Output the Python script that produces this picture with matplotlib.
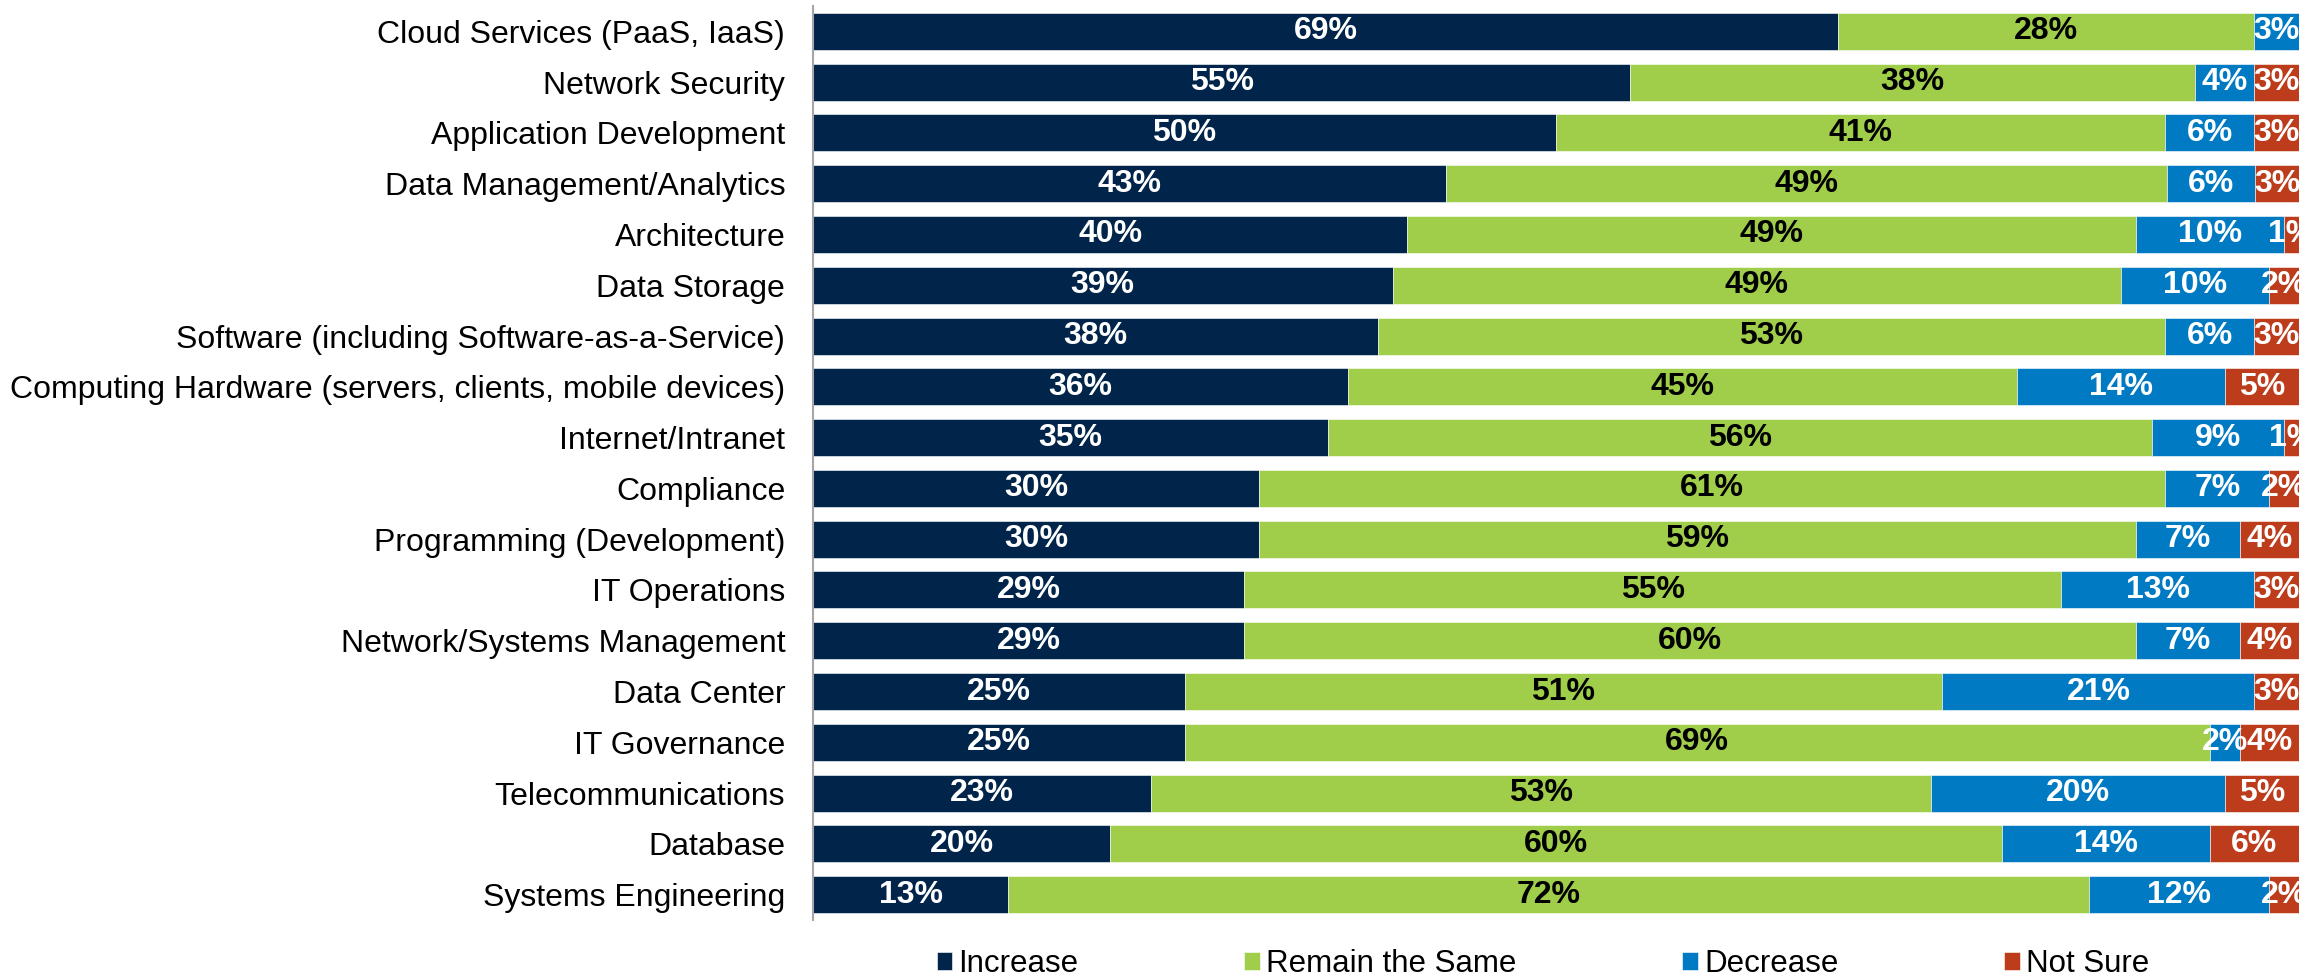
import matplotlib.pyplot as plt
import numpy as np

plt.rcParams['font.family'] = ['Liberation Sans', 'DejaVu Sans']

categories = [
    "Cloud Services (PaaS, IaaS)",
    "Network Security",
    "Application Development",
    "Data Management/Analytics",
    "Architecture",
    "Data Storage",
    "Software (including Software-as-a-Service)",
    "Computing Hardware (servers, clients, mobile devices)",
    "Internet/Intranet",
    "Compliance",
    "Programming (Development)",
    "IT Operations",
    "Network/Systems Management",
    "Data Center",
    "IT Governance",
    "Telecommunications",
    "Database",
    "Systems Engineering",
]
increase = [69, 55, 50, 43, 40, 39, 38, 36, 35, 30, 30, 29, 29, 25, 25, 23, 20, 13]
remain = [28, 38, 41, 49, 49, 49, 53, 45, 56, 61, 59, 55, 60, 51, 69, 53, 60, 72]
decrease = [3, 4, 6, 6, 10, 10, 6, 14, 9, 7, 7, 13, 7, 21, 2, 20, 14, 12]
not_sure = [0, 3, 3, 3, 1, 2, 3, 5, 1, 2, 4, 3, 4, 3, 4, 5, 6, 2]

series = [
    ("Increase", increase, "#00244a", "white"),
    ("Remain the Same", remain, "#a0cd4a", "black"),
    ("Decrease", decrease, "#007ac2", "white"),
    ("Not Sure", not_sure, "#bc3c1b", "white"),
]

fig = plt.figure(figsize=(23.02, 9.76), dpi=100)
ax = fig.add_axes([813 / 2302, 56 / 976, 1486 / 2302, 914 / 976])

# 100% stacked: each row scaled to its own total
totals = np.array(increase) + np.array(remain) + np.array(decrease) + np.array(not_sure)

y = np.arange(len(categories))
left = np.zeros(len(categories))
for name, vals, color, tcolor in series:
    vals = np.array(vals, dtype=float)
    widths = vals / totals * 100
    bars = ax.barh(y, widths, left=left, height=0.73, color=color, label=name,
                   edgecolor='white', linewidth=0.4)
    for b, v in zip(bars, vals):
        if v > 0:
            ax.text(b.get_x() + b.get_width() / 2, b.get_y() + b.get_height() / 2,
                    f"{v:.0f}%", ha='center', va='center', color=tcolor,
                    fontsize=23, fontweight='bold')
    left += widths

ax.set_xlim(0, 100)
ax.set_ylim(len(categories) - 0.5, -0.5)
ax.set_yticks(y)
ax.set_yticklabels(categories, fontsize=23)
ax.tick_params(axis='y', length=0, pad=20)
ax.set_xticks([])
for s in ['top', 'right', 'bottom']:
    ax.spines[s].set_visible(False)
ax.spines['left'].set_color('#a6a6a6')
ax.spines['left'].set_linewidth(1.5)

fig.legend(loc='center', bbox_to_anchor=(1543 / 2302, 1 - 964 / 976), ncol=4,
           frameon=False, fontsize=22.5, handlelength=0.5, handleheight=0.5,
           handletextpad=0.2, columnspacing=5.3)

fig.savefig('out.png', dpi=100)
